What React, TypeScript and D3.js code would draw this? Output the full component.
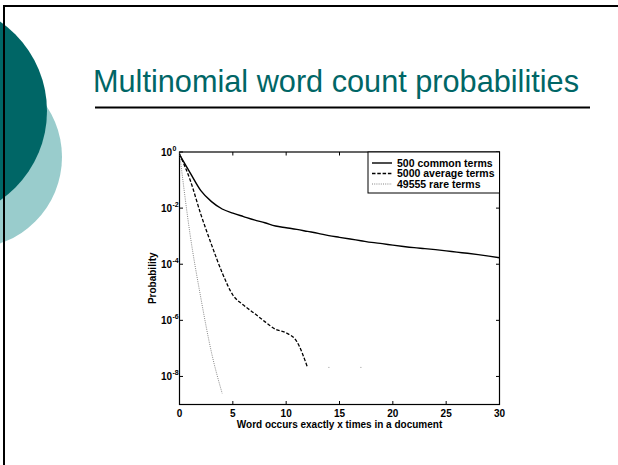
import * as d3 from "d3";

// counts on the x axis
const counts = [0, 1, 2, 3, 4, 5, 6, 7, 8, 9, 10, 11, 12, 13, 14, 15, 16, 17, 18, 19, 20, 21, 22, 23, 24, 25, 26, 27, 28, 29, 30];

// probabilities (null = no value at that count)
const commonTerms = [8.0e-1, 1.8e-1, 4.2e-2, 1.7e-2, 9.3e-3, 6.6e-3, 5.0e-3, 3.8e-3, 3.0e-3, 2.3e-3, 2.0e-3, 1.74e-3, 1.48e-3, 1.26e-3, 1.05e-3, 9.1e-4, 7.9e-4, 6.9e-4, 6.0e-4, 5.4e-4, 4.8e-4, 4.3e-4, 3.9e-4, 3.6e-4, 3.3e-4, 3.0e-4, 2.7e-4, 2.45e-4, 2.2e-4, 1.95e-4, 1.7e-4];
const averageTerms = [8.5e-1, 1.0e-1, 6.0e-3, 5.0e-4, 5.0e-5, 8.0e-6, 3.5e-6, 1.8e-6, 9.0e-7, 4.8e-7, 3.6e-7, 1.75e-7, 2.1e-8, null, 2.1e-8, null, null, 2.1e-8];
const rareTerms = [9.5e-1, 1.1e-3, 6.3e-6, 7.1e-8, 2.5e-9];

const seriesNames = ["500 common terms", "5000 average terms", "49555 rare terms"];
const xTicks = [0, 5, 10, 15, 20, 25, 30];
const yTickExps = [0, -2, -4, -6, -8];

const teal = "#006666";
const font = "'Liberation Sans', Arial, sans-serif";

type Pt = { x: number; y: number | null };

export default function App() {
  const x = d3.scaleLinear().domain([0, 30]).range([179.5, 499.5]);
  const y = d3.scaleLog().domain([1e-9, 1]).range([404.5, 152]);

  const toPts = (vals: (number | null)[]): Pt[] => vals.map((v, i) => ({ x: counts[i], y: v }));

  const line = d3.line<Pt>()
    .defined(d => d.y != null)
    .x(d => x(d.x))
    .y(d => y(d.y as number))
    .curve(d3.curveMonotoneX);

  const series = [
    { name: seriesNames[0], pts: toPts(commonTerms), stroke: "#000", width: 1.4, dash: null as string | null },
    { name: seriesNames[1], pts: toPts(averageTerms), stroke: "#000", width: 1.3, dash: "3.5 1.8" },
    { name: seriesNames[2], pts: toPts(rareTerms), stroke: "#666", width: 0.8, dash: "1 1.2" },
  ];

  // single points with no neighbours only show as faint specks
  const isolated = series[1].pts.filter((d, i, arr) =>
    d.y != null && (arr[i - 1] == null || arr[i - 1].y == null) && (arr[i + 1] == null || arr[i + 1].y == null));

  const [x0, x1] = x.range();
  const [yb, yt] = y.range();

  return (
    <svg width={618} height={465} style={{ position: "absolute", left: 0, top: 0, background: "#fff" }}>
      {/* slide decoration */}
      <circle cx={-29.3} cy={157} r={91.3} fill="#99cccc" />
      <circle cx={-61.5} cy={111} r={108.5} fill={teal} />
      <line x1={3} y1={6} x2={618} y2={6} stroke="#000" strokeWidth={2} />
      <line x1={4} y1={5} x2={4} y2={465} stroke="#000" strokeWidth={2} />

      <text x={93} y={92} fontFamily={font} fontSize={32} fill={teal} textLength={486} lengthAdjust="spacingAndGlyphs">
        Multinomial word count probabilities
      </text>
      <line x1={95} y1={107.5} x2={590} y2={107.5} stroke="#000" strokeWidth={2.2} />

      {/* axes box */}
      <rect x={x0} y={yt} width={x1 - x0} height={yb - yt} fill="none" stroke="#000" strokeWidth={1.2} />

      {xTicks.map(t => (
        <g key={"x" + t}>
          <line x1={x(t)} x2={x(t)} y1={yb} y2={yb - 3.5} stroke="#000" />
          <line x1={x(t)} x2={x(t)} y1={yt} y2={yt + 3.5} stroke="#000" />
          <text x={x(t)} y={416.5} textAnchor="middle" fontFamily={font} fontWeight="bold" fontSize={10}>{t}</text>
        </g>
      ))}

      {yTickExps.map(e => {
        const yy = y(Math.pow(10, e));
        return (
          <g key={"y" + e}>
            <line x1={x0} x2={x0 + 3.5} y1={yy} y2={yy} stroke="#000" />
            <line x1={x1} x2={x1 - 3.5} y1={yy} y2={yy} stroke="#000" />
            <text x={172} y={yy + 3.5} textAnchor="end" fontFamily={font} fontWeight="bold" fontSize={10}>10</text>
            <text x={172.5} y={yy - 1.5} fontFamily={font} fontWeight="bold" fontSize={7}>{e}</text>
          </g>
        );
      })}

      <text x={339.5} y={428} textAnchor="middle" fontFamily={font} fontWeight="bold" fontSize={10}>
        Word occurs exactly x times in a document
      </text>
      <text transform={`translate(155.5,${(yt + yb) / 2}) rotate(-90)`} textAnchor="middle" fontFamily={font} fontWeight="bold" fontSize={10}>
        Probability
      </text>

      {series.map(s => (
        <path key={s.name} d={line(s.pts) || ""} fill="none" stroke={s.stroke} strokeWidth={s.width}
          strokeDasharray={s.dash || undefined} />
      ))}
      {isolated.map(d => (
        <rect key={"iso" + d.x} x={x(d.x) - 0.75} y={y(d.y as number) - 0.5} width={1.5} height={1} fill="#bbb" />
      ))}

      {/* legend */}
      <rect x={368} y={yt} width={x1 - 368} height={41} fill="#fff" stroke="#000" strokeWidth={1} />
      {series.map((s, i) => {
        const ly = 163 + i * 10.5;
        return (
          <g key={"lg" + i}>
            <line x1={372} x2={392} y1={ly} y2={ly} stroke={s.stroke} strokeWidth={s.width} strokeDasharray={s.dash || undefined} />
            <text x={397} y={ly + 3.5} fontFamily={font} fontWeight="bold" fontSize={10.5}>{s.name}</text>
          </g>
        );
      })}
    </svg>
  );
}
